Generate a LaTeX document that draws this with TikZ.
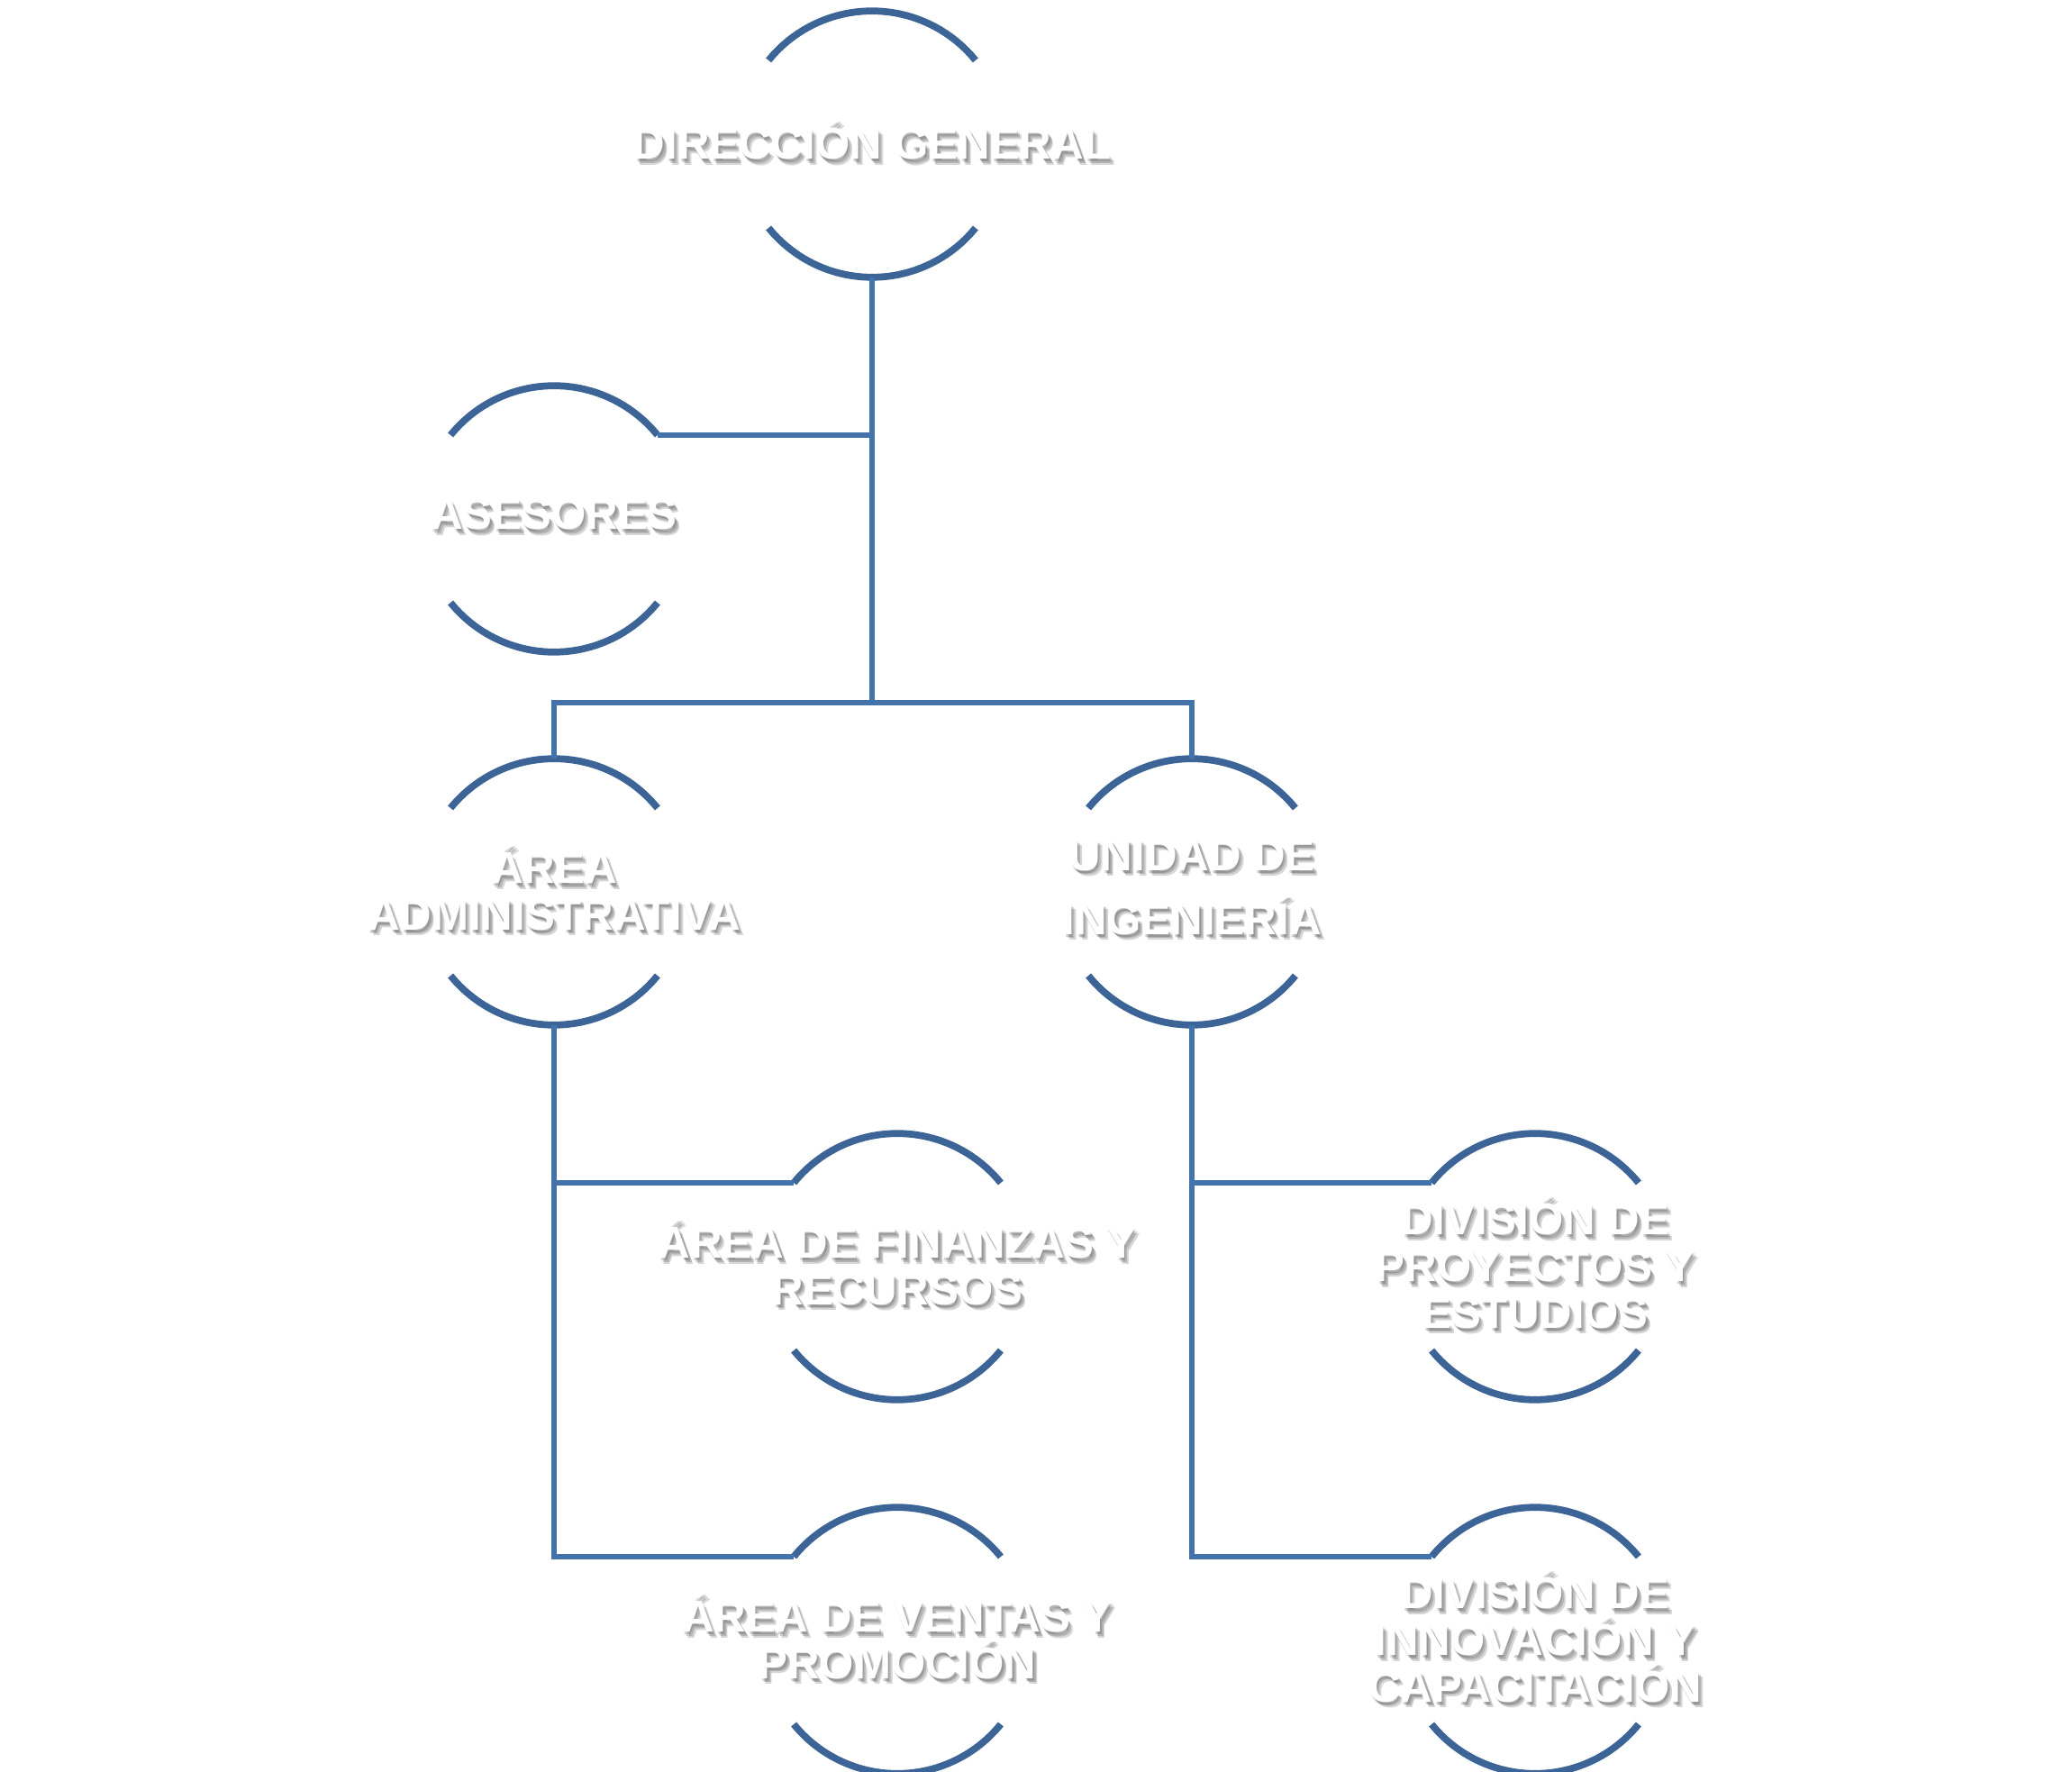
\documentclass[tikz,border=0pt]{standalone}
\usepackage{fontspec}
\setmainfont{Liberation Sans}
\usepackage{tikz}
\usepackage{xcolor}
\usetikzlibrary{positioning}

\definecolor{arcblue}{RGB}{61,100,150}
\definecolor{linkblue}{RGB}{68,114,170}

\begin{document}
\begin{tikzpicture}[
    frame/.style={circle, minimum size=2.956cm, inner sep=0pt, outer sep=0pt},
    lbl/.style={text=white, font=\fontsize{14}{14.7}\selectfont\bfseries, align=center, yshift=0.05cm},
    shade/.style={lbl, text=black, text opacity=0.16},
    rim/.style={arcblue, line width=2.2pt},
    link/.style={linkblue, line width=1.8pt}
]
    \useasboundingbox (0,0) rectangle (23,-19.67);

    % frames
    \node[frame] (dg) at (9.68, -1.60) {};
    \node[frame] (ase) at (6.15, -5.76) {};
    \node[frame] (aa) at (6.15, -9.90) {};
    \node[frame] (ui) at (13.23, -9.90) {};
    \node[frame] (fin) at (9.96, -14.06) {};
    \node[frame] (pro) at (17.04, -14.06) {};
    \node[frame] (ven) at (9.96, -18.21) {};
    \node[frame] (inn) at (17.04, -18.21) {};

    \foreach \n in {dg, ase, aa, ui, fin, pro, ven, inn}
        \draw[rim] (\n.39) arc[start angle=39, end angle=141, radius=1.478cm]
                   (\n.219) arc[start angle=219, end angle=321, radius=1.478cm];

    % connectors
    \coordinate (bus) at (9.68, -7.80);
    \draw[link] (dg.south) -- (bus);
    \draw[link] (ase.39) -- (ase.39 -| dg.south);
    \draw[link] (aa.north) |- (bus) -| (ui.north);
    \draw[link] (aa.south) |- (ven.141);
    \draw[link] (aa.south |- fin.141) -- (fin.141);
    \draw[link] (ui.south) |- (inn.141);
    \draw[link] (ui.south |- pro.141) -- (pro.141);

    % labels with soft shadow
    \foreach \n/\t in {dg/{DIRECCIÓN GENERAL}, ase/{ASESORES},
                       aa/{ÁREA\\ADMINISTRATIVA}, ui/{UNIDAD DE\\[5.4pt]INGENIERÍA},
                       fin/{ÁREA DE FINANZAS Y\\RECURSOS}, pro/{DIVISIÓN DE\\PROYECTOS Y\\ESTUDIOS},
                       ven/{ÁREA DE VENTAS Y\\PROMOCIÓN}, inn/{DIVISIÓN DE\\INNOVACIÓN Y\\CAPACITACIÓN}} {
        \foreach \dx/\dy [count=\k] in {0.015/-0.03, 0.05/-0.065, 0.035/-0.045}
            \node[shade] (\n-s\k) at ([shift={(\dx,\dy)}]\n) {\t};
        \node[lbl] (\n-l) at (\n) {\t};
    }
\end{tikzpicture}
\end{document}
